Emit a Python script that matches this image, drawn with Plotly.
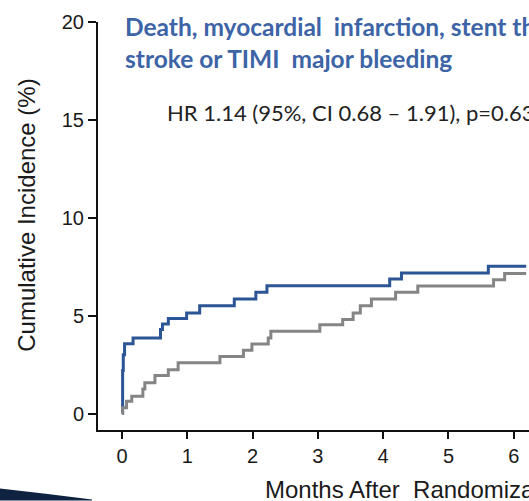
import plotly.graph_objects as go

# Data (months, cumulative incidence %)
blue_t = [0, 0.01, 0.02, 0.04, 0.17, 0.59, 0.62, 0.71, 0.99, 1.19, 1.72, 2.05, 2.22, 4.10, 4.28, 5.61, 6.19]
blue_v = [0, 2.2, 3.0, 3.57, 3.86, 4.29, 4.58, 4.85, 5.14, 5.51, 5.85, 6.19, 6.53, 6.87, 7.18, 7.52, 7.52]

grey_t = [0, 0.01, 0.07, 0.15, 0.32, 0.35, 0.505, 0.71, 0.86, 1.50, 1.86, 1.99, 2.24, 2.28,
          3.03, 3.38, 3.54, 3.65, 3.82, 4.19, 4.53, 5.69, 5.86, 6.19]
grey_v = [0, 0.30, 0.63, 0.88, 1.25, 1.57, 1.94, 2.24, 2.59, 2.92, 3.23, 3.55, 3.86, 4.20,
          4.54, 4.80, 5.14, 5.51, 5.85, 6.20, 6.52, 6.84, 7.16, 7.16]

x_ticks = [0, 1, 2, 3, 4, 5, 6]
y_ticks = [0, 5, 10, 15, 20]

title_text = "Death, myocardial  infarction, stent thrombosis,<br>stroke or TIMI  major bleeding"
hr_text = "HR 1.14 (95%, CI 0.68 \u2013 1.91), p=0.63"
x_title = "Months After  Randomization"
y_title = "Cumulative Incidence (%)"

W, H = 529, 501
L, R, T, B = 98, 0, 22, 70.5
pw, ph = W - L - R, H - T - B

def px(x):
    return (x - L) / pw

def py(y):
    return (H - B - y) / ph

fig = go.Figure()
fig.add_trace(go.Scatter(x=blue_t, y=blue_v, mode="lines", line=dict(shape="hv", color="#2c5596", width=3),
                         hoverinfo="skip", showlegend=False))
fig.add_trace(go.Scatter(x=grey_t, y=grey_v, mode="lines", line=dict(shape="hv", color="#858585", width=3),
                         hoverinfo="skip", showlegend=False))

axis_font = dict(family="Liberation Sans, Arial, sans-serif", size=20, color="#1a1a1a")

fig.update_layout(
    width=W, height=H,
    margin=dict(l=L, r=R, t=T, b=B, pad=0),
    paper_bgcolor="white", plot_bgcolor="white",
    xaxis=dict(range=[-0.367, 6.233], tickvals=x_ticks, ticks="outside", ticklen=7, tickwidth=2,
               tickcolor="#111", showline=True, linecolor="#111", linewidth=2, showgrid=False,
               zeroline=False, tickfont=axis_font),
    yaxis=dict(range=[-0.84, 20], tickvals=y_ticks, ticks="outside", ticklen=8, tickwidth=2,
               tickcolor="#111", showline=True, linecolor="#111", linewidth=2, showgrid=False,
               zeroline=False, tickfont=axis_font),
    annotations=[
        dict(text="<b>" + title_text + "</b>", xref="paper", yref="paper", x=px(123), y=py(10),
             xanchor="left", yanchor="top", align="left", showarrow=False,
             font=dict(family="Lato, sans-serif", size=24.5, color="#3c64a6")),
        dict(text=hr_text, xref="paper", yref="paper", x=px(165), y=py(113),
             xanchor="left", yanchor="middle", align="left", showarrow=False,
             font=dict(family="Lato, sans-serif", size=22, color="#222")),
        dict(text=x_title, xref="paper", yref="paper", x=px(263), y=py(490),
             xanchor="left", yanchor="middle", showarrow=False,
             font=dict(family="Liberation Sans, Arial, sans-serif", size=24, color="#1a1a1a")),
        dict(text=y_title, xref="paper", yref="paper", x=px(27), y=py(216),
             xanchor="center", yanchor="middle", textangle=-90, showarrow=False,
             font=dict(family="Liberation Sans, Arial, sans-serif", size=24, color="#1a1a1a")),
    ],
    shapes=[
        dict(type="path", xref="paper", yref="paper", layer="above",
             path=f"M {px(0)} {py(489)} Q {px(45)} {py(494)} {px(92)} {py(500)} L {px(92)} {py(501)} L {px(0)} {py(501)} Z",
             fillcolor="#0f2340", line=dict(width=0)),
    ],
)

fig.write_html("out.html")
